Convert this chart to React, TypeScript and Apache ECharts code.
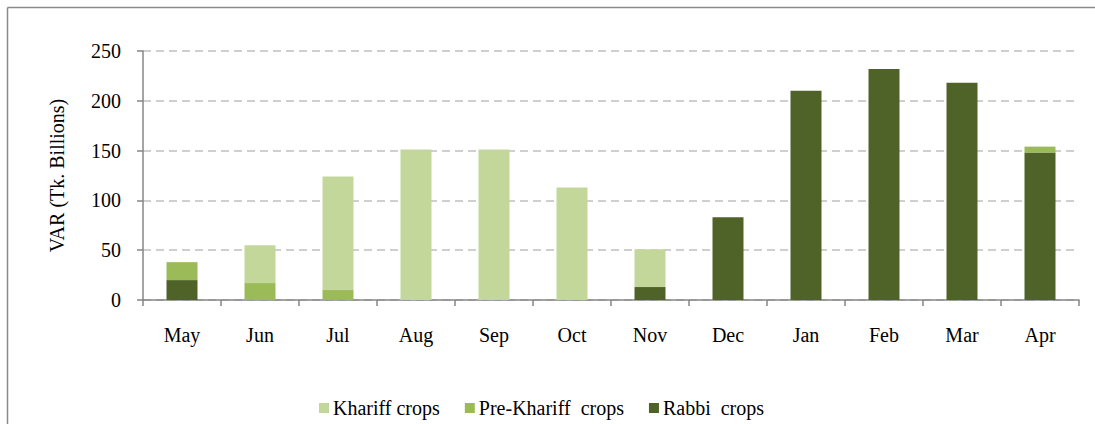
import React, { useEffect, useRef } from "react";
import * as echarts from "echarts";

const months = ["May", "Jun", "Jul", "Aug", "Sep", "Oct", "Nov", "Dec", "Jan", "Feb", "Mar", "Apr"];
const rabbi = [20, 0, 0, 0, 0, 0, 13, 83, 210, 232, 218, 148];
const preKhariff = [18, 17, 10, 0, 0, 0, 0, 0, 0, 0, 0, 6];
const khariff = [0, 38, 114, 151, 151, 113, 38, 0, 0, 0, 0, 0];
const yTicks = [0, 50, 100, 150, 200, 250];

const FONT = "'Liberation Serif', 'Times New Roman', serif";

export default function App() {
  const ref = useRef<HTMLDivElement>(null);
  useEffect(() => {
    document.body.style.margin = "0";
    const chart = echarts.init(ref.current!, null, { renderer: "svg" });
    const axisColor = "#868686";
    chart.setOption({
      animation: false,
      backgroundColor: "#fff",
      textStyle: { fontFamily: FONT, color: "#000" },
      grid: { left: 143, right: 16, top: 51, bottom: 124 },
      graphic: [
        { type: "line", shape: { x1: 7.5, y1: 7.5, x2: 1095, y2: 7.5 }, style: { stroke: "#8a8a8a", lineWidth: 1.5 } },
        { type: "line", shape: { x1: 7.5, y1: 7.5, x2: 7.5, y2: 424 }, style: { stroke: "#8a8a8a", lineWidth: 1.5 } },
      ],
      legend: {
        data: ["Khariff crops", "Pre-Khariff  crops", "Rabbi  crops"],
        left: 314,
        top: 393,
        itemWidth: 10,
        itemHeight: 10,
        itemGap: 25,
        icon: "rect",
        textStyle: { fontFamily: FONT, fontSize: 20, color: "#000", padding: [0, 0, 0, -1] },
      },
      xAxis: {
        type: "category",
        data: months,
        axisLine: { lineStyle: { color: axisColor, width: 1.5 } },
        axisTick: { show: true, length: 6, lineStyle: { color: axisColor, width: 1.5 } },
        axisLabel: { fontFamily: FONT, fontSize: 20, color: "#000", margin: 25 },
      },
      yAxis: {
        type: "value",
        min: yTicks[0],
        max: yTicks[yTicks.length - 1],
        interval: 50,
        name: "VAR (Tk. Billions)",
        nameLocation: "middle",
        nameGap: 76,
        nameTextStyle: { fontFamily: FONT, fontSize: 20, color: "#000" },
        axisLine: { show: true, lineStyle: { color: axisColor, width: 1.5 } },
        axisTick: { show: true, length: 6, lineStyle: { color: axisColor, width: 1.5 } },
        axisLabel: { fontFamily: FONT, fontSize: 20, color: "#000", margin: 22 },
        splitLine: { lineStyle: { color: "#c0c0c0", width: 1.5, type: [8, 5] } },
      },
      series: [
        {
          name: "Rabbi  crops",
          type: "bar",
          stack: "total",
          data: rabbi,
          barWidth: 31,
          itemStyle: { color: "#4F6228" },
        },
        {
          name: "Pre-Khariff  crops",
          type: "bar",
          stack: "total",
          data: preKhariff,
          barWidth: 31,
          itemStyle: { color: "#9BBB59" },
        },
        {
          name: "Khariff crops",
          type: "bar",
          stack: "total",
          data: khariff,
          barWidth: 31,
          itemStyle: { color: "#C4D79B" },
        },
      ],
    });
    return () => chart.dispose();
  }, []);
  return <div ref={ref} style={{ width: 1095, height: 424 }} />;
}
